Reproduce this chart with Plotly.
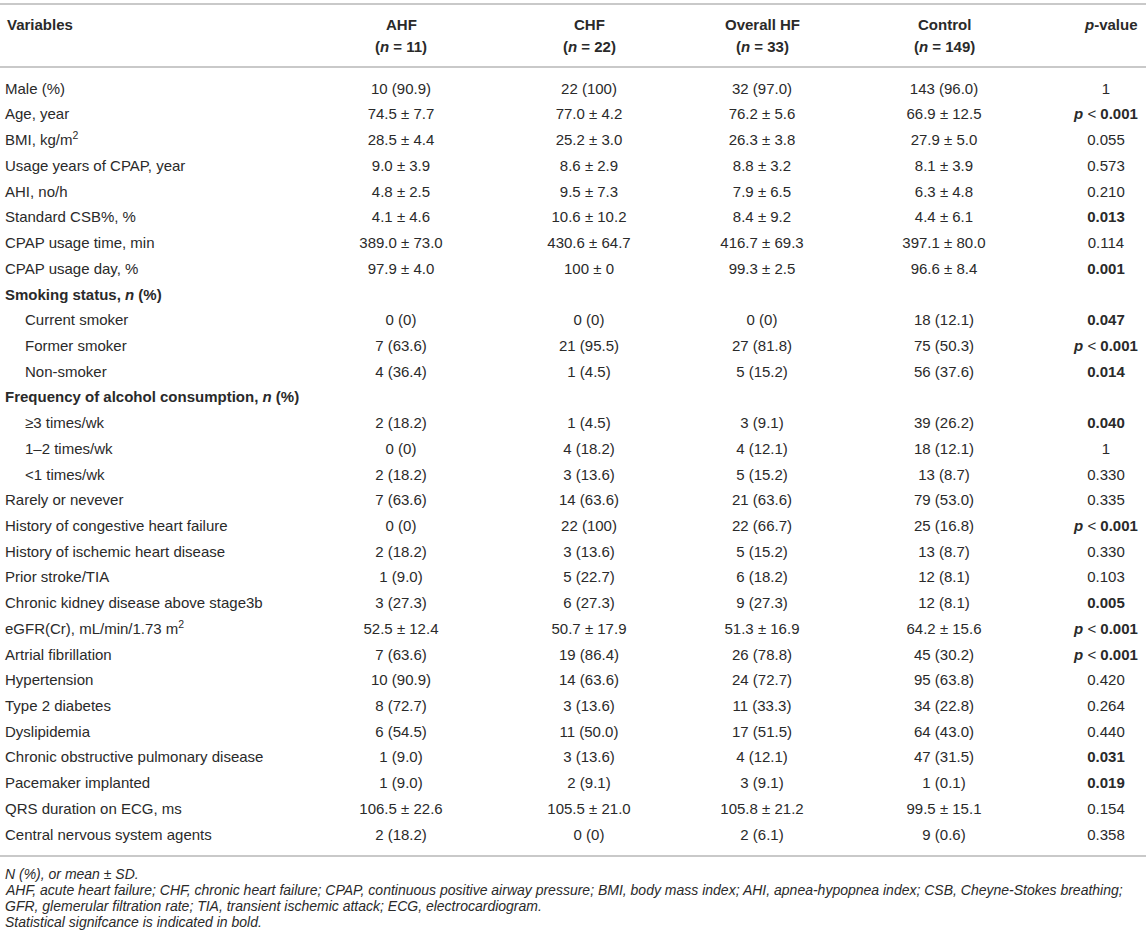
import plotly.graph_objects as go

# table content
variables = [
    "Male (%)", "Age, year", "BMI, kg/m<sup>2</sup>", "Usage years of CPAP, year",
    "AHI, no/h", "Standard CSB%, %", "CPAP usage time, min", "CPAP usage day, %",
    "Smoking status, <i>n</i> (%)", "Current smoker", "Former smoker", "Non-smoker",
    "Frequency of alcohol consumption, <i>n</i> (%)", "≥3 times/wk", "1–2 times/wk",
    "&lt;1 times/wk", "Rarely or nevever", "History of congestive heart failure",
    "History of ischemic heart disease", "Prior stroke/TIA",
    "Chronic kidney disease above stage3b", "eGFR(Cr), mL/min/1.73 m<sup>2</sup>",
    "Artrial fibrillation", "Hypertension", "Type 2 diabetes", "Dyslipidemia",
    "Chronic obstructive pulmonary disease", "Pacemaker implanted",
    "QRS duration on ECG, ms", "Central nervous system agents",
]
ahf = [
    "10 (90.9)", "74.5 ± 7.7", "28.5 ± 4.4", "9.0 ± 3.9", "4.8 ± 2.5", "4.1 ± 4.6",
    "389.0 ± 73.0", "97.9 ± 4.0", "", "0 (0)", "7 (63.6)", "4 (36.4)", "",
    "2 (18.2)", "0 (0)", "2 (18.2)", "7 (63.6)", "0 (0)", "2 (18.2)", "1 (9.0)",
    "3 (27.3)", "52.5 ± 12.4", "7 (63.6)", "10 (90.9)", "8 (72.7)", "6 (54.5)",
    "1 (9.0)", "1 (9.0)", "106.5 ± 22.6", "2 (18.2)",
]
chf = [
    "22 (100)", "77.0 ± 4.2", "25.2 ± 3.0", "8.6 ± 2.9", "9.5 ± 7.3", "10.6 ± 10.2",
    "430.6 ± 64.7", "100 ± 0", "", "0 (0)", "21 (95.5)", "1 (4.5)", "",
    "1 (4.5)", "4 (18.2)", "3 (13.6)", "14 (63.6)", "22 (100)", "3 (13.6)", "5 (22.7)",
    "6 (27.3)", "50.7 ± 17.9", "19 (86.4)", "14 (63.6)", "3 (13.6)", "11 (50.0)",
    "3 (13.6)", "2 (9.1)", "105.5 ± 21.0", "0 (0)",
]
overall_hf = [
    "32 (97.0)", "76.2 ± 5.6", "26.3 ± 3.8", "8.8 ± 3.2", "7.9 ± 6.5", "8.4 ± 9.2",
    "416.7 ± 69.3", "99.3 ± 2.5", "", "0 (0)", "27 (81.8)", "5 (15.2)", "",
    "3 (9.1)", "4 (12.1)", "5 (15.2)", "21 (63.6)", "22 (66.7)", "5 (15.2)", "6 (18.2)",
    "9 (27.3)", "51.3 ± 16.9", "26 (78.8)", "24 (72.7)", "11 (33.3)", "17 (51.5)",
    "4 (12.1)", "3 (9.1)", "105.8 ± 21.2", "2 (6.1)",
]
control = [
    "143 (96.0)", "66.9 ± 12.5", "27.9 ± 5.0", "8.1 ± 3.9", "6.3 ± 4.8", "4.4 ± 6.1",
    "397.1 ± 80.0", "96.6 ± 8.4", "", "18 (12.1)", "75 (50.3)", "56 (37.6)", "",
    "39 (26.2)", "18 (12.1)", "13 (8.7)", "79 (53.0)", "25 (16.8)", "13 (8.7)", "12 (8.1)",
    "12 (8.1)", "64.2 ± 15.6", "45 (30.2)", "95 (63.8)", "34 (22.8)", "64 (43.0)",
    "47 (31.5)", "1 (0.1)", "99.5 ± 15.1", "9 (0.6)",
]
p_values = [
    "1", "p < 0.001", "0.055", "0.573", "0.210", "0.013", "0.114", "0.001", "",
    "0.047", "p < 0.001", "0.014", "", "0.040", "1", "0.330", "0.335", "p < 0.001",
    "0.330", "0.103", "0.005", "p < 0.001", "p < 0.001", "0.420", "0.264", "0.440",
    "0.031", "0.019", "0.154", "0.358",
]
section_rows = [8, 12]
sub_rows = [9, 10, 11, 13, 14, 15]

groups = ["AHF", "CHF", "Overall HF", "Control"]
group_n = [11, 22, 33, 149]

footnotes = [
    "N (%), or mean ± SD.",
    "AHF, acute heart failure; CHF, chronic heart failure; CPAP, continuous positive airway pressure; "
    "BMI, body mass index; AHI, apnea-hypopnea index; CSB, Cheyne-Stokes breathing;",
    "GFR, glemerular filtration rate; TIA, transient ischemic attack; ECG, electrocardiogram.",
    "Statistical signifcance is indicated in bold.",
]

# layout (pixels)
W, H = 1146, 944
col_x = [401, 589, 762, 944, 1106]
first_row_y = 90
row_h = 25.72
text_color = "#2a2a2a"
rule_color = "#c9c9c9"
font_family = "Liberation Sans, Arial, Helvetica, sans-serif"
body_size = 15


def fmt_p(p):
    if p == "":
        return ""
    if p.startswith("p <"):
        return "<b><i>p</i></b> &lt; <b>" + p.split("<")[1].strip() + "</b>"
    if float(p) < 0.05:
        return "<b>" + p + "</b>"
    return p


row_y = [first_row_y + i * row_h for i in range(len(variables))]

fig = go.Figure()

# first column
labels, label_x = [], []
for i, v in enumerate(variables):
    if i in section_rows:
        labels.append("<b>" + v + "</b>")
    else:
        labels.append(v)
    label_x.append(25 if i in sub_rows else 5)

fig.add_trace(go.Scatter(
    x=label_x, y=row_y, mode="text", text=labels, textposition="middle right",
    textfont=dict(family=font_family, size=body_size, color=text_color),
    hoverinfo="skip", showlegend=False,
))

columns = [ahf, chf, overall_hf, control, [fmt_p(p) for p in p_values]]
for cx, col in zip(col_x, columns):
    fig.add_trace(go.Scatter(
        x=[cx] * len(col), y=row_y, mode="text", text=col, textposition="middle center",
        textfont=dict(family=font_family, size=body_size, color=text_color),
        hoverinfo="skip", showlegend=False,
    ))

# header
head_font = dict(family=font_family, size=body_size, color=text_color)
fig.add_annotation(x=5, y=24, text="<b>Variables</b>", xanchor="left", yanchor="middle",
                   showarrow=False, font=head_font)
for cx, g, n in zip(col_x, groups, group_n):
    fig.add_annotation(x=cx, y=24, text="<b>" + g + "</b>", xanchor="center",
                       yanchor="middle", showarrow=False, font=head_font)
    fig.add_annotation(x=cx, y=46, text="<b>(<i>n</i> = " + str(n) + ")</b>",
                       xanchor="center", yanchor="middle", showarrow=False, font=head_font)
fig.add_annotation(x=1140, y=24, text="<b><i>p</i>-value</b>", xanchor="right",
                   yanchor="middle", showarrow=False, font=head_font)

# rules
for ry in [4, 67, 856]:
    fig.add_shape(type="line", x0=0, x1=W, y0=ry, y1=ry,
                  line=dict(color=rule_color, width=2.2))

# footnotes
foot_y = 874
for k, note in enumerate(footnotes):
    fig.add_annotation(x=3, y=foot_y + k * 16.1, text="<i>" + note + "</i>",
                       xanchor="left", yanchor="middle", showarrow=False,
                       font=dict(family=font_family, size=14, color=text_color))

fig.update_xaxes(range=[0, W], visible=False, fixedrange=True)
fig.update_yaxes(range=[H, 0], visible=False, fixedrange=True)
fig.update_layout(
    width=W, height=H,
    margin=dict(l=0, r=0, t=0, b=0),
    plot_bgcolor="white", paper_bgcolor="white",
)

fig.write_html("out.html", config={"displayModeBar": False},
               post_script="document.body.style.margin='0';")
